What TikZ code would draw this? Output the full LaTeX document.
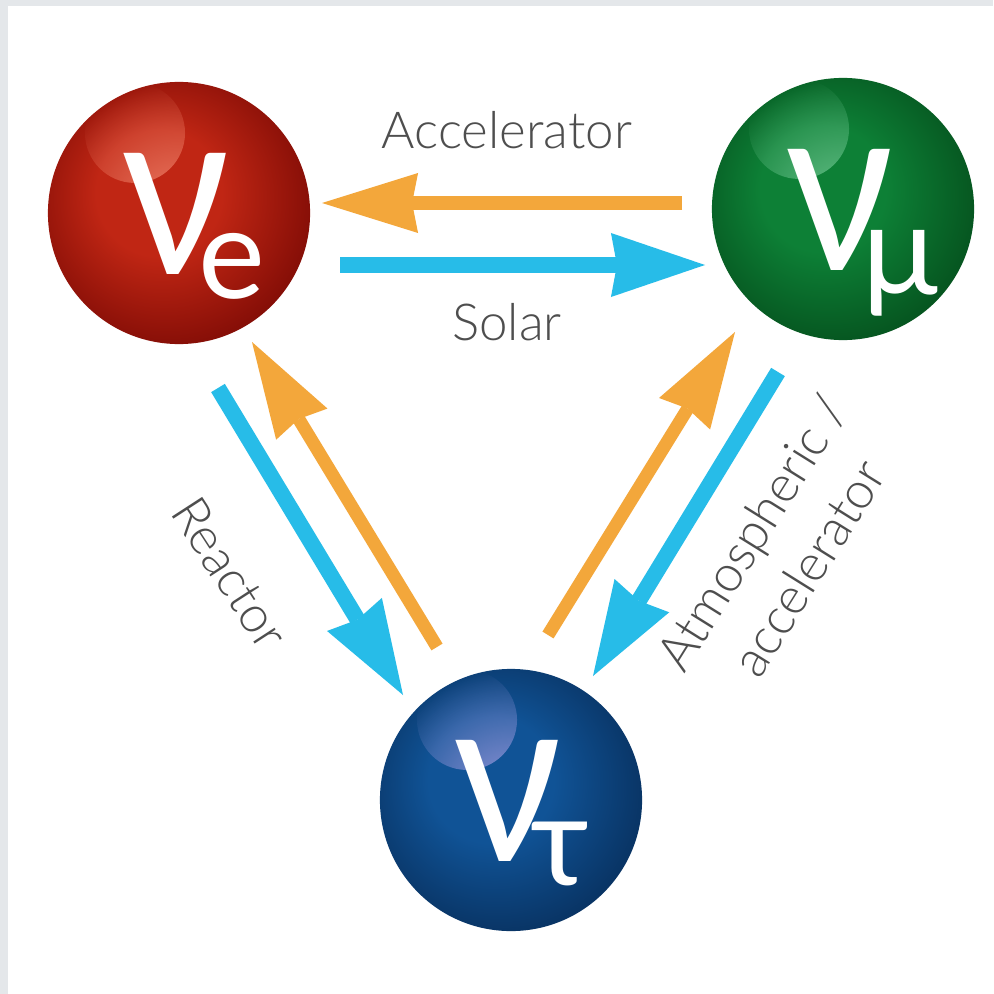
\documentclass[tikz,border=0pt]{standalone}
\usepackage{fontspec}
\setmainfont{Lato}
\newfontfamily\lblfont{Lato Light}
\usetikzlibrary{arrows.meta,fadings}

\definecolor{framegray}{HTML}{E4E7EA}
\definecolor{lblgray}{HTML}{4E4E4E}
\definecolor{oscorange}{HTML}{F3A73B}
\definecolor{oscblue}{HTML}{27BCE8}
\definecolor{redhi}{HTML}{EE8068}
\definecolor{redmain}{HTML}{C02614}
\definecolor{reddark}{HTML}{7E0B05}
\definecolor{greenhi}{HTML}{6CC48E}
\definecolor{greenmain}{HTML}{0D8036}
\definecolor{greendark}{HTML}{05501D}
\definecolor{bluehi}{HTML}{9A98DC}
\definecolor{bluemain}{HTML}{105396}
\definecolor{bluedark}{HTML}{08305E}

\pgfdeclareradialshading{redball}{\pgfpoint{-5bp}{5bp}}{color(0bp)=(redmain); color(12bp)=(redmain); color(30bp)=(reddark); color(50bp)=(reddark)}
\pgfdeclareradialshading{greenball}{\pgfpoint{-5bp}{5bp}}{color(0bp)=(greenmain); color(12bp)=(greenmain); color(30bp)=(greendark); color(50bp)=(greendark)}
\pgfdeclareradialshading{blueball}{\pgfpoint{-5bp}{5bp}}{color(0bp)=(bluemain); color(12bp)=(bluemain); color(30bp)=(bluedark); color(50bp)=(bluedark)}
\tikzfading[name=softspot, inner color=transparent!0, outer color=transparent!100]

\newcommand{\nulabel}[1]{\makebox[1.14cm][l]{\fontsize{63}{63}\selectfont\scalebox{0.95}[1.08]{ν}\hspace{-0.32cm}\raisebox{-0.24cm}{\fontsize{36}{36}\selectfont #1}}}

\begin{document}
\begin{tikzpicture}[x=0.01cm, y=-0.01cm,
  sphere/.style={circle, inner sep=0pt, minimum size=2.62cm, shade, shading=#1ball,
    text=white, text height=1.22cm, text depth=0cm,
    path picture={\fill[#1hi, path fading=softspot]
      ([shift={(-0.44cm,0.8cm)}]path picture bounding box.center) circle[radius=0.5cm];}},
  lbl/.style={text=lblgray, font=\lblfont\fontsize{14.5}{19}\selectfont, inner sep=0pt},
  accel/.style={draw=oscorange, line width=0.13cm,
    -{Stealth[length=0.96cm, width=0.6cm, inset=0.06cm, line width=0pt]}},
  solar/.style={draw=oscblue, line width=0.16cm,
    -{Stealth[length=0.94cm, width=0.64cm, inset=0.06cm, line width=0pt]}}]
  \useasboundingbox (0,0) rectangle (993,994);
  \fill[framegray] (0,0) rectangle (993,994);
  \fill[white] (8,6) rectangle (1010,1010);

  % the three flavours
  \node[sphere=red] (e) at (179,213) {\nulabel{e}};
  \node[sphere=green] (mu) at (843,209) {\nulabel{μ}};
  \node[sphere=blue] (tau) at (511,800) {\nulabel{τ}};

  % oscillation channels
  \draw[accel] ([shift={(-161,-6)}]mu.center) -- ([shift={(143,-10)}]e.center);
  \draw[solar] ([shift={(161,52)}]e.center) -- ([shift={(-138,56)}]mu.center);
  \draw[solar] ([shift={(39,175)}]e.center) -- ([shift={(-108,-105)}]tau.center);
  \draw[accel] ([shift={(-74,-153)}]tau.center) -- ([shift={(73,129)}]e.center);
  \draw[accel] ([shift={(37,-165)}]tau.center) -- ([shift={(-108,123)}]mu.center);
  \draw[solar] ([shift={(-65,163)}]mu.center) -- ([shift={(82,-124)}]tau.center);

  \node[lbl] (acc) at (507,130) {Accelerator};
  \node[lbl] (sol) at (507,322) {Solar};
  \node[lbl, rotate=-57] (rea) at (230,573) {Reactor};
  \node[lbl, rotate=58, align=center] (atm) at (780,550) {Atmospheric /\\accelerator};
\end{tikzpicture}
\end{document}
